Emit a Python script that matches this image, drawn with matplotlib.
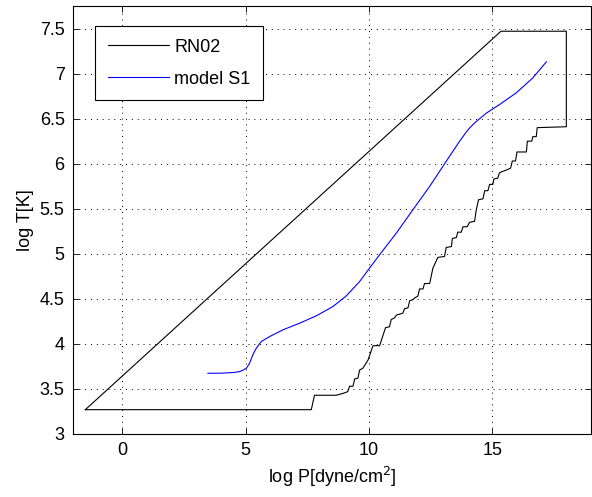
import numpy as np
import matplotlib
matplotlib.use("Agg")
import matplotlib.pyplot as plt
from matplotlib.ticker import FormatStrFormatter

plt.rcParams['font.family'] = ['Liberation Sans', 'DejaVu Sans']

# RN02 boundary (closed polygon in log P - log T plane)
rn02_logP = [-1.5, 15.35, 18.0, 18.0,
             16.82, 16.78, 16.64, 16.60, 16.42, 16.38, 16.00, 15.94, 15.81,
             15.74, 15.57, 15.29, 15.22, 15.06, 15.02, 14.89, 14.82, 14.69,
             14.62, 14.44, 14.35, 14.28, 14.08, 13.98, 13.81, 13.74, 13.60,
             13.54, 13.38, 13.34, 13.13, 13.06, 12.79, 12.59, 12.46, 12.25,
             12.19, 12.05, 11.98, 11.85, 11.78, 11.65, 11.58, 11.44, 11.37,
             11.11, 11.04, 10.90, 10.83, 10.67, 10.43, 10.16, 9.96, 9.75,
             9.62, 9.55, 9.42, 9.35, 9.21, 9.14, 8.94, 8.67, 7.79, 7.66,
             -1.5]
rn02_logT = [3.27, 7.47, 7.47, 6.41,
             6.40, 6.30, 6.30, 6.25, 6.25, 6.13, 6.13, 6.03, 6.03,
             5.95, 5.93, 5.90, 5.84, 5.83, 5.77, 5.77, 5.70, 5.70,
             5.61, 5.60, 5.49, 5.36, 5.35, 5.30, 5.30, 5.24, 5.24,
             5.18, 5.17, 5.08, 5.07, 4.97, 4.96, 4.84, 4.67, 4.67,
             4.61, 4.61, 4.53, 4.51, 4.49, 4.48, 4.40, 4.39, 4.34,
             4.32, 4.29, 4.27, 4.19, 4.18, 3.98, 3.98, 3.82, 3.73,
             3.71, 3.62, 3.61, 3.53, 3.53, 3.47, 3.45, 3.43, 3.43, 3.27,
             3.27]

# model S1 track
s1_logP = [3.47, 4.0, 4.5, 4.75, 4.9, 5.03, 5.16, 5.29, 5.43, 5.63, 5.97,
           6.51, 7.19, 7.86, 8.54, 9.08, 9.62, 10.02, 10.43, 10.90, 11.11,
           11.78, 12.46, 13.13, 13.67, 13.94, 14.08, 14.28, 14.75, 15.29,
           15.97, 16.64, 17.19]
s1_logT = [3.674, 3.675, 3.682, 3.692, 3.71, 3.73, 3.786, 3.878, 3.952,
           4.026, 4.081, 4.156, 4.23, 4.311, 4.415, 4.533, 4.692, 4.841,
           4.989, 5.156, 5.23, 5.489, 5.748, 6.026, 6.248, 6.35, 6.397,
           6.452, 6.56, 6.656, 6.786, 6.952, 7.13]

xticks = [0, 5, 10, 15]
yticks = np.arange(3, 7.51, 0.5)

fig = plt.figure(figsize=(5.92, 4.97), dpi=100)
ax = fig.add_axes([73 / 592, 63 / 497, 518 / 592, 428 / 497])

ax.plot(rn02_logP, rn02_logT, color='k', lw=0.8, label='RN02')
ax.plot(s1_logP, s1_logT, color='b', lw=0.8, label='model S1')

ax.set_xlim(-2, 19)
ax.set_ylim(3, 7.75)
ax.set_xticks(xticks)
ax.set_yticks(yticks)
ax.yaxis.set_major_formatter(FormatStrFormatter('%g'))
ax.tick_params(direction='in', length=4, width=0.6, top=True, right=True,
               labelsize=13, pad=6)
ax.grid(True, color='k', linestyle=(0, (1, 5)), linewidth=0.7)
for s in ax.spines.values():
    s.set_linewidth(0.8)

ax.set_xlabel('log P[dyne/cm$^2$]', fontsize=13)
ax.set_ylabel('log T[K]', fontsize=13)

leg = ax.legend(loc='upper left', bbox_to_anchor=(0.0425, 0.953), fontsize=13,
                fancybox=False, framealpha=1, edgecolor='k',
                handlelength=3.4, handletextpad=0.3, labelspacing=0.82,
                borderpad=0.7, borderaxespad=0)
leg.get_frame().set_linewidth(0.8)

fig.savefig('out.png', dpi=100)
